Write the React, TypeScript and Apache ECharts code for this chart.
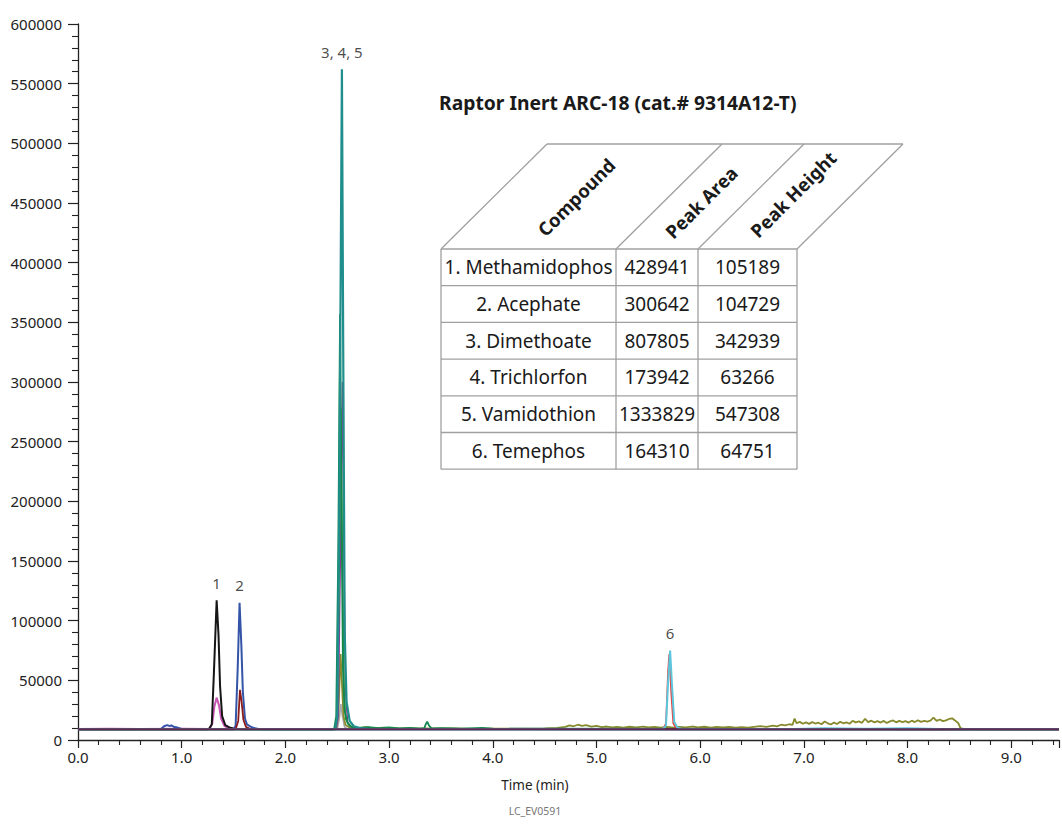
import React, { useEffect, useRef } from "react";
import * as echarts from "echarts";

// ---- Data (time in min, intensity in counts) ----
const baseline: number[][] = [[0, 9000], [9.46, 9000]];

const black1: number[][] = [
  [0, 9000], [1.26, 9000], [1.29, 13000], [1.31, 55000], [1.337, 117000], [1.355, 88000],
  [1.37, 45000], [1.39, 20000], [1.42, 12500], [1.46, 10500], [1.52, 9300], [1.6, 9000], [9.46, 9000],
];
const magenta1: number[][] = [
  [0, 9200], [0.3, 9500], [0.6, 9300], [1.0, 9500], [1.27, 9200], [1.295, 14000], [1.315, 28000],
  [1.337, 35500], [1.36, 29000], [1.38, 18000], [1.41, 12000], [1.45, 9800], [1.5, 9200], [9.46, 9200],
];
const blue2: number[][] = [
  [0, 9000], [0.80, 9200], [0.83, 11500], [0.86, 12500], [0.88, 11800], [0.90, 12200],
  [0.93, 10800], [0.96, 10400], [1.0, 9300], [1.5, 9000], [1.52, 12000], [1.54, 60000],
  [1.558, 115000], [1.575, 80000], [1.59, 40000], [1.61, 18000], [1.63, 13000], [1.66, 11500],
  [1.69, 10200], [1.74, 9300], [1.8, 9000], [9.46, 9000],
];
const darkred2: number[][] = [
  [0, 9000], [1.52, 9000], [1.545, 16000], [1.562, 42000], [1.578, 32000], [1.595, 17000],
  [1.62, 11000], [1.66, 9200], [9.46, 9000],
];
const teal5: number[][] = [
  [0, 9000], [2.48, 9000], [2.50, 20000], [2.52, 200000], [2.545, 562000], [2.558, 320000],
  [2.572, 90000], [2.59, 32000], [2.62, 16000], [2.66, 11500], [2.72, 10000], [2.8, 9300], [9.46, 9000],
];
const green3: number[][] = [
  [0, 9000], [2.47, 9000], [2.49, 20000], [2.51, 160000], [2.527, 357000], [2.54, 200000],
  [2.555, 60000], [2.57, 25000], [2.60, 14000], [2.64, 11000], [2.7, 10200], [2.8, 10800],
  [2.9, 10000], [3.0, 10500], [3.1, 9800], [3.2, 10200], [3.3, 9600], [3.34, 10000],
  [3.355, 13500], [3.368, 15300], [3.385, 12000], [3.41, 9800], [3.5, 10000], [3.7, 9600],
  [3.9, 10200], [4.0, 9500], [4.2, 9200], [9.46, 9000],
];
const green3b: number[][] = [
  [0, 9000], [2.48, 9000], [2.50, 25000], [2.52, 150000], [2.535, 278000], [2.55, 150000],
  [2.565, 45000], [2.58, 18000], [2.62, 11500], [2.7, 9500], [9.46, 9000],
];
const purple5: number[][] = [
  [0, 9000], [2.49, 9000], [2.51, 20000], [2.53, 150000], [2.55, 300000], [2.565, 150000],
  [2.58, 40000], [2.6, 15000], [2.64, 10000], [2.7, 9000], [9.46, 9000],
];
const olive4: number[][] = [
  [0, 9000], [2.45, 9000], [2.49, 9500], [2.51, 20000], [2.532, 72000], [2.545, 48000], [2.56, 20000],
  [2.58, 12500], [2.62, 10500], [2.70, 10000], [2.78, 10800], [2.85, 9800], [2.95, 10300],
  [3.05, 9600], [3.2, 9800], [3.4, 9500], [3.6, 9700], [3.8, 9400], [4.0, 9600], [4.3, 9500],
  [4.5, 9800], [4.62, 10200], [4.7, 11000], [4.74, 12300], [4.78, 11500], [4.82, 12800],
  [4.86, 11800], [4.90, 12400], [4.95, 11200], [5.0, 11900], [5.05, 10800], [5.1, 11300],
  [5.15, 10500], [5.2, 11000], [5.26, 10400], [5.32, 11100], [5.38, 10600], [5.45, 11200],
  [5.5, 10500], [5.56, 11000], [5.62, 10400], [5.68, 10900], [5.75, 10300], [5.8, 11000],
  [5.86, 10500], [5.92, 11300], [5.98, 10600], [6.04, 11100], [6.1, 10400], [6.16, 11000],
  [6.22, 10500], [6.28, 10900], [6.34, 10300], [6.4, 10800], [6.46, 10400], [6.52, 11000],
  [6.58, 11600], [6.64, 11000], [6.7, 12000], [6.74, 11400], [6.78, 12800], [6.82, 12200],
  [6.86, 13200], [6.89, 12600], [6.91, 18000], [6.93, 14000], [6.96, 15200], [6.99, 13600],
  [7.02, 14800], [7.05, 13500], [7.08, 15000], [7.11, 13800], [7.14, 14500], [7.17, 13200],
  [7.20, 15500], [7.23, 14000], [7.26, 13000], [7.29, 14600], [7.32, 13400], [7.35, 15200],
  [7.38, 14000], [7.41, 14800], [7.44, 13600], [7.47, 16000], [7.50, 14800], [7.53, 15600],
  [7.56, 14400], [7.59, 17800], [7.62, 15000], [7.65, 16200], [7.68, 14800], [7.71, 15800],
  [7.74, 14600], [7.77, 16000], [7.80, 14200], [7.83, 15600], [7.86, 16400], [7.89, 14800],
  [7.92, 16000], [7.95, 15000], [7.98, 15800], [8.01, 14600], [8.04, 16200], [8.07, 15000],
  [8.10, 16600], [8.13, 15200], [8.16, 16000], [8.19, 15400], [8.22, 16200], [8.25, 18800],
  [8.28, 16000], [8.31, 17200], [8.34, 15800], [8.37, 16400], [8.40, 17600], [8.43, 18200],
  [8.46, 16200], [8.49, 14000], [8.51, 10000], [8.55, 9200], [9.46, 9200],
];
const gray4: number[][] = [
  [0, 9000], [2.50, 9000], [2.52, 18000], [2.535, 30000], [2.55, 20000], [2.57, 11000],
  [2.6, 9200], [9.46, 9000],
];
const red6: number[][] = [
  [0, 9000], [5.64, 9000], [5.67, 14000], [5.69, 58000], [5.702, 72000], [5.72, 40000],
  [5.74, 14000], [5.77, 9800], [5.8, 9000], [9.46, 9000],
];
const cyan6: number[][] = [
  [0, 9000], [5.64, 9000], [5.67, 12000], [5.69, 48000], [5.71, 75000], [5.728, 46000],
  [5.75, 15000], [5.78, 10500], [5.82, 9200], [6.9, 9200], [7.2, 9800], [7.6, 9400],
  [8.0, 9900], [8.3, 9300], [8.6, 9000], [9.46, 9000],
];

const peakLabels = ["1", "2", "3, 4, 5", "6"];
const peakTimes = [1.337, 1.558, 2.545, 5.71];
const peakTops = [117000, 115000, 562000, 75000];

const compounds = ["1. Methamidophos", "2. Acephate", "3. Dimethoate", "4. Trichlorfon", "5. Vamidothion", "6. Temephos"];
const peakAreas = ["428941", "300642", "807805", "173942", "1333829", "164310"];
const peakHeights = ["105189", "104729", "342939", "63266", "547308", "64751"];
const tableHeaders = ["Compound", "Peak Area", "Peak Height"];

const FONT = "'Noto Sans', 'Open Sans', sans-serif";

function lineSeries(data: number[][], color: string, width = 1.6, z = 2) {
  return {
    type: "line",
    data,
    showSymbol: false,
    symbol: "none",
    lineStyle: { color, width },
    itemStyle: { color },
    z,
    silent: true,
  };
}

export default function App() {
  const ref = useRef<HTMLDivElement>(null);
  useEffect(() => {
    if (!ref.current) return;
    const chart = echarts.init(ref.current, undefined, { renderer: "svg" });

    // table geometry
    const colX = [441, 616, 698, 797];
    const top = 249;
    const rowH = 36.7;
    const slant = 106;
    const lineStyle = { stroke: "#a0a0a0", lineWidth: 1.3 };
    const g: any[] = [];
    for (let i = 0; i <= compounds.length; i++) {
      const y = top + i * rowH;
      g.push({ type: "line", shape: { x1: colX[0], y1: y, x2: colX[3], y2: y }, style: lineStyle });
    }
    const bottom = top + compounds.length * rowH;
    colX.forEach((x) => {
      g.push({ type: "line", shape: { x1: x, y1: top, x2: x, y2: bottom }, style: lineStyle });
      g.push({ type: "line", shape: { x1: x, y1: top, x2: x + slant, y2: top - 105 }, style: lineStyle });
    });
    g.push({ type: "line", shape: { x1: colX[0] + slant, y1: top - 105, x2: colX[3] + slant, y2: top - 105 }, style: lineStyle });
    const headerPos = [[576, 197], [701, 202], [793, 194]];
    tableHeaders.forEach((h, i) => {
      g.push({
        type: "text", x: headerPos[i][0], y: headerPos[i][1], rotation: Math.PI / 4,
        style: { text: h, fontFamily: FONT, fontWeight: "bold", fontSize: 18.5, fill: "#1a1a1a", align: "center", verticalAlign: "middle" },
      });
    });
    const cols = [compounds, peakAreas, peakHeights];
    cols.forEach((col, c) => {
      const cx = (colX[c] + colX[c + 1]) / 2;
      col.forEach((t, r) => {
        g.push({
          type: "text", x: cx, y: top + (r + 0.5) * rowH,
          style: { text: t, fontFamily: FONT, fontSize: 19, fill: "#1a1a1a", align: "center", verticalAlign: "middle" },
        });
      });
    });
    g.push({
      type: "text", x: 439, y: 102,
      style: { text: "Raptor Inert ARC-18 (cat.# 9314A12-T)", fontFamily: FONT, fontWeight: "bold", fontSize: 19.3, fill: "#1a1a1a", align: "left", verticalAlign: "middle" },
    });
    g.push({
      type: "text", x: 535, y: 785,
      style: { text: "Time (min)", fontFamily: FONT, fontSize: 13.5, fill: "#222", align: "center", verticalAlign: "middle" },
    });
    g.push({
      type: "text", x: 535, y: 811,
      style: { text: "LC_EV0591", fontFamily: FONT, fontSize: 10.5, fill: "#777", align: "center", verticalAlign: "middle" },
    });

    chart.setOption({
      animation: false,
      backgroundColor: "#fff",
      grid: { left: 78, right: 0, top: 24, bottom: 87, containLabel: false },
      xAxis: {
        type: "value", min: 0, max: 9.46, interval: 1,
        axisLine: { show: true, lineStyle: { color: "#222", width: 1.3 } },
        axisTick: { show: true, length: 8, lineStyle: { color: "#222", width: 1.2 } },
        minorTick: { show: true, splitNumber: 5, length: 5, lineStyle: { color: "#222", width: 1.1 } },
        splitLine: { show: false },
        axisLabel: {
          fontFamily: FONT, fontSize: 15, color: "#222", margin: 9,
          formatter: (v: number) => (Math.abs(v - Math.round(v)) < 1e-6 ? v.toFixed(1) : ""),
        },
      },
      yAxis: {
        type: "value", min: 0, max: 600000, interval: 50000,
        axisLine: { show: true, lineStyle: { color: "#222", width: 1.3 } },
        axisTick: { show: true, length: 10, lineStyle: { color: "#222", width: 1.2 } },
        minorTick: { show: true, splitNumber: 5, length: 6, lineStyle: { color: "#222", width: 1.1 } },
        splitLine: { show: false },
        axisLabel: {
          fontFamily: FONT, fontSize: 15, color: "#222", margin: 16,
          formatter: (v: number) => String(Math.round(v)),
        },
      },
      series: [
        lineSeries(gray4, "#a8a8a8", 1.6, 2),
        lineSeries(olive4, "#878a2c", 1.8, 3),
        lineSeries(purple5, "#8a3a9a", 1.4, 3),
        lineSeries(green3b, "#2e9a3a", 1.6, 3),
        lineSeries(green3, "#13874e", 1.8, 4),
        lineSeries(teal5, "#1f8e8c", 2.2, 5),
        lineSeries(magenta1, "#c956b4", 2, 4),
        lineSeries(black1, "#161616", 2, 5),
        lineSeries(blue2, "#3454a8", 2, 5),
        lineSeries(darkred2, "#8c1c1c", 1.8, 6),
        lineSeries(red6, "#e8403f", 1.6, 5),
        lineSeries(cyan6, "#5cc6dc", 2, 6),
        lineSeries(baseline, "#5a2a50", 2, 7),
        {
          type: "scatter",
          data: peakTimes.map((t, i) => ({ value: [t, peakTops[i]], name: peakLabels[i] })),
          symbolSize: 2,
          itemStyle: { color: "rgba(0,0,0,0)" },
          silent: true,
          z: 8,
          label: {
            show: true, position: "top", distance: 9, formatter: "{b}",
            fontFamily: FONT, fontSize: 15, color: "#1a1a1a",
          },
        },
      ],
      graphic: g,
    });
    return () => chart.dispose();
  }, []);
  return (
    <div
      ref={ref}
      style={{ position: "fixed", left: 0, top: 0, width: 1062, height: 827, background: "#fff" }}
    />
  );
}
